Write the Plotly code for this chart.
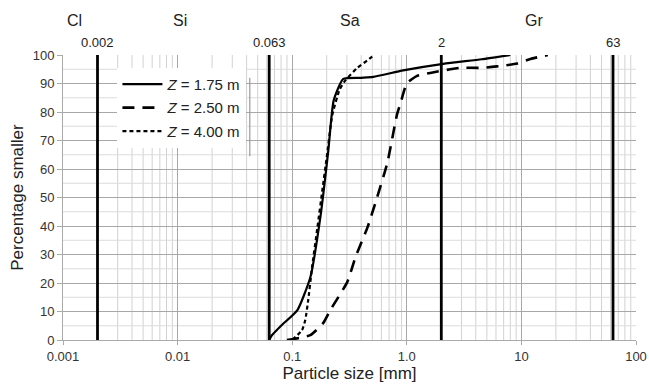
import math
import plotly.graph_objects as go

# ---- data ----
size_175 = [0.063, 0.066, 0.08, 0.111, 0.144, 0.176, 0.206, 0.23, 0.279, 0.4, 0.51, 0.93, 2.08, 4.5, 8.0]
pct_175 = [0, 1.5, 5, 10.5, 22, 43, 66, 84, 91.6, 92, 92.3, 94.6, 96.9, 98.5, 100]

size_250 = [0.09, 0.144, 0.187, 0.215, 0.302, 0.356, 0.454, 0.55, 0.675, 0.82, 0.88, 1.0, 1.23, 1.6, 2.4, 2.93, 4.6, 6.1, 9.2, 12.0, 17.0]
pct_250 = [0, 1.7, 6, 10.5, 20.3, 29, 39.5, 50, 62, 79, 83, 90, 92.7, 93.7, 95, 95.5, 95.5, 96, 97, 98.6, 100]

size_400 = [0.1, 0.122, 0.13, 0.138, 0.149, 0.166, 0.183, 0.2, 0.224, 0.26, 0.29, 0.37, 0.45, 0.52]
pct_400 = [0, 3.5, 7, 14, 25.5, 39.5, 52.4, 64, 79, 88, 91, 95.5, 98, 100]

series_names = ["<i>Z</i> = 1.75 m", "<i>Z</i> = 2.50 m", "<i>Z</i> = 4.00 m"]

boundary_sizes = [0.002, 0.063, 2, 63]
boundary_labels = ["0.002", "0.063", "2", "63"]

class_labels = ["Cl", "Si", "Sa", "Gr"]
class_centres = [0.00127, 0.0105, 0.32, 13.0]

x_tickvals = [0.001, 0.01, 0.1, 1, 10, 100]
x_ticktext = ["0.001", "0.01", "0.1", "1.0", "10", "100"]
y_tickvals = [0, 10, 20, 30, 40, 50, 60, 70, 80, 90, 100]

FONT = "Liberation Sans, Arial, sans-serif"

fig = go.Figure()

# minor grid (log minors, 5% steps) drawn as shapes from axis values
minor_x = [m * 10 ** e for e in range(-3, 2) for m in range(2, 10)]
for v in minor_x:
    fig.add_shape(type="line", xref="x", yref="y", x0=v, x1=v, y0=0, y1=100,
                  line=dict(color="#d2d2d2", width=1), layer="below")
for v in range(5, 100, 10):
    fig.add_shape(type="line", xref="x", yref="y", x0=0.001, x1=100, y0=v, y1=v,
                  line=dict(color="#dcdcdc", width=1), layer="below")

styles = [dict(dash="solid", width=2.2), dict(dash="12px,8px", width=2.6), dict(dash="4px,3px", width=2.2)]
for i, (xs, ys, nm, st) in enumerate(zip([size_175, size_250, size_400], [pct_175, pct_250, pct_400], series_names, styles)):
    fig.add_trace(go.Scatter(x=xs, y=ys, mode="lines", name=nm, legendgroup=f"g{i}",
                             line=dict(color="black", width=st["width"], dash=st["dash"], shape="spline", smoothing=0.5)))

for b, lab in zip(boundary_sizes, boundary_labels):
    fig.add_shape(type="line", xref="x", yref="y", x0=b, x1=b, y0=0, y1=100,
                  line=dict(color="black", width=2.8))
    fig.add_annotation(x=math.log10(b), y=1, xref="x", yref="paper", text=lab, showarrow=False,
                       yanchor="bottom", yshift=3, font=dict(size=13, color="#222", family=FONT))

for c, lab in zip(class_centres, class_labels):
    fig.add_annotation(x=math.log10(c), y=1, xref="x", yref="paper", text=lab, showarrow=False,
                       yanchor="bottom", yshift=24, font=dict(size=16, color="#222", family=FONT))

# legend right edge shadow line
fig.add_shape(type="line", xref="paper", yref="paper", x0=0.326, x1=0.326, y0=0.645, y1=0.92,
              line=dict(color="#999", width=1.2))

fig.update_xaxes(type="log", range=[-3, 2], tickvals=x_tickvals, ticktext=x_ticktext,
                 showgrid=True, gridcolor="#a8a8a8", gridwidth=1, automargin=False,
                 showline=True, linecolor="#aaa", linewidth=1,
                 ticks="outside", ticklen=4, tickcolor="#aaa",
                 tickfont=dict(size=13, color="#333", family=FONT),
                 title=dict(text="Particle size [mm]", font=dict(size=17, color="#222", family=FONT), standoff=1),
                 zeroline=False)
fig.update_yaxes(range=[0, 100], tickvals=y_tickvals, automargin=False,
                 showgrid=True, gridcolor="#a8a8a8", gridwidth=1,
                 showline=True, linecolor="#aaa", linewidth=1,
                 ticks="outside", ticklen=5, tickcolor="#aaa",
                 tickfont=dict(size=13, color="#333", family=FONT),
                 title=dict(text="Percentage smaller", font=dict(size=17, color="#222", family=FONT), standoff=4),
                 zeroline=False)

fig.update_layout(
    width=649, height=385,
    margin=dict(l=63, r=13, t=55, b=45),
    paper_bgcolor="white", plot_bgcolor="white",
    showlegend=True,
    legend=dict(x=0.095, y=0.955, xanchor="left", yanchor="top",
                bgcolor="white", borderwidth=0,
                font=dict(size=15, color="#222", family=FONT),
                tracegroupgap=1, itemwidth=40),
)

fig.write_html("out.html", config={"displayModeBar": False},
               post_script="document.body.style.margin='0';document.body.style.overflow='hidden';")
